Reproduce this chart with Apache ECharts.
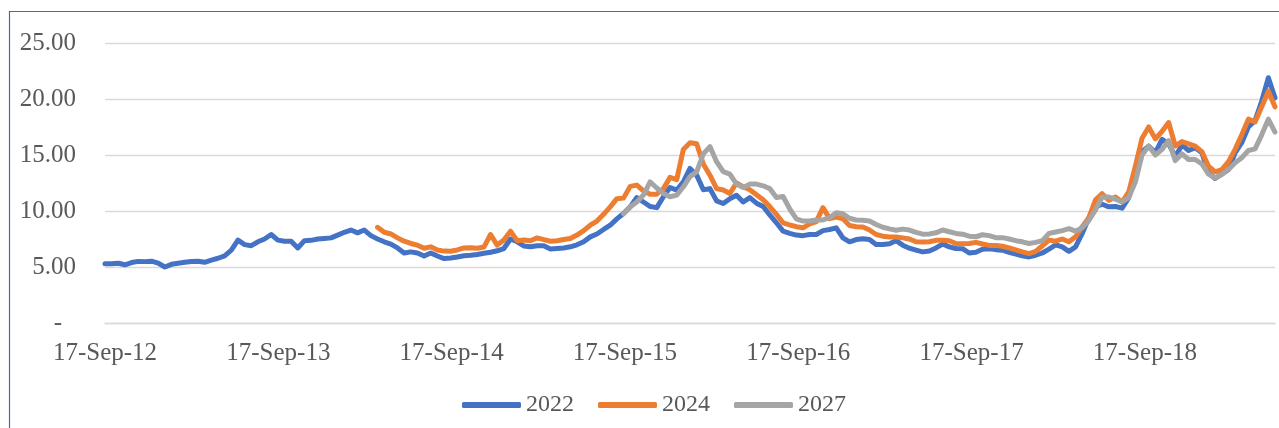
<!DOCTYPE html>
<html>
<head>
<meta charset="utf-8">
<script src="https://cdn.jsdelivr.net/npm/echarts@6/dist/echarts.min.js"></script>
<style>
  html, body { margin: 0; padding: 0; background: #ffffff; }
  #chart { width: 1279px; height: 428px; }
</style>
</head>
<body>
<div id="chart"></div>
<script>
const startDate = '2012-09-17';
const stepDays = 14;
const seriesNames = ['2022', '2024', '2027'];
const xTickLabels = ['17-Sep-12', '17-Sep-13', '17-Sep-14', '17-Sep-15', '17-Sep-16', '17-Sep-17', '17-Sep-18'];
const yTickValues = [0, 5, 10, 15, 20, 25];

// series "2022" starts at sample 0
const offset2022 = 0;
const values2022 = [
  5.30, 5.30, 5.34, 5.20, 5.40, 5.50, 5.48, 5.52, 5.35, 5.00,
  5.24, 5.34, 5.42, 5.50, 5.52, 5.42, 5.62, 5.78, 6.00, 6.50,
  7.40, 7.00, 6.90, 7.25, 7.50, 7.90, 7.40, 7.30, 7.30, 6.70,
  7.35, 7.38, 7.50, 7.55, 7.60, 7.85, 8.10, 8.30, 8.05, 8.30,
  7.80, 7.50, 7.25, 7.05, 6.70, 6.25, 6.35, 6.25, 5.98, 6.25,
  5.98, 5.75, 5.80, 5.90, 6.00, 6.05, 6.12, 6.22, 6.32, 6.45,
  6.65, 7.50, 7.25, 6.88, 6.80, 6.90, 6.90, 6.60, 6.65, 6.70,
  6.80, 6.98, 7.25, 7.69, 7.95, 8.35, 8.73, 9.30, 9.78, 10.37,
  11.20, 10.80, 10.40, 10.30, 11.27, 12.10, 11.87, 12.60, 13.80, 13.20,
  11.90, 12.00, 10.90, 10.67, 11.10, 11.40, 10.80, 11.20, 10.70, 10.40,
  9.65, 8.95, 8.20, 8.00, 7.85, 7.80, 7.90, 7.90, 8.25, 8.35,
  8.50, 7.60, 7.25, 7.45, 7.53, 7.45, 7.00, 7.00, 7.08, 7.35,
  6.95, 6.68, 6.50, 6.35, 6.42, 6.70, 7.05, 6.80, 6.65, 6.64,
  6.25, 6.32, 6.58, 6.62, 6.55, 6.50, 6.30, 6.15, 6.00, 5.90,
  6.05, 6.25, 6.60, 6.98, 6.80, 6.40, 6.80, 8.00, 9.40, 10.36,
  10.60, 10.37, 10.40, 10.25, 11.20, 13.03, 15.30, 15.80, 15.20, 16.40,
  16.00, 14.85, 15.90, 15.40, 15.65, 15.20, 13.40, 12.90, 13.30, 13.70,
  15.20, 16.10, 17.50, 18.07, 19.80, 21.90, 20.10
];

// series "2024" starts at sample 41
const offset2024 = 41;
const values2024 = [
  8.54, 8.10, 7.95, 7.60, 7.30, 7.10, 6.95, 6.67, 6.80,
  6.52, 6.42, 6.40, 6.52, 6.70, 6.72, 6.67, 6.78, 7.90, 6.96,
  7.41, 8.20, 7.35, 7.41, 7.35, 7.60, 7.45, 7.30, 7.35, 7.45,
  7.54, 7.85, 8.25, 8.73, 9.10, 9.70, 10.37, 11.10, 11.15, 12.20,
  12.31, 11.80, 11.50, 11.50, 12.00, 13.00, 12.80, 15.50, 16.10, 16.00,
  14.20, 13.20, 12.00, 11.87, 11.57, 12.50, 12.16, 11.90, 11.45, 11.00,
  10.40, 9.70, 8.95, 8.75, 8.60, 8.50, 8.85, 9.05, 10.30, 9.32,
  9.45, 9.30, 8.70, 8.60, 8.57, 8.30, 7.90, 7.75, 7.68, 7.68,
  7.60, 7.50, 7.25, 7.23, 7.25, 7.38, 7.38, 7.35, 7.10, 7.08,
  7.10, 7.20, 7.05, 6.93, 6.93, 6.85, 6.70, 6.52, 6.35, 6.20,
  6.40, 6.90, 7.40, 7.30, 7.50, 7.25, 7.70, 8.60, 9.40, 11.00,
  11.55, 10.95, 11.25, 10.80, 11.70, 14.00, 16.50, 17.50, 16.44, 17.10,
  17.90, 15.80, 16.20, 16.00, 15.80, 15.30, 14.00, 13.50, 13.70, 14.40,
  15.50, 16.80, 18.20, 17.95, 19.30, 20.70, 19.30
];

// series "2027" starts at sample 78
const offset2027 = 78;
const values2027 = [
  9.75, 10.37,
  10.80, 11.42, 12.60, 12.05, 11.57, 11.27, 11.42, 12.16, 13.06, 13.50,
  15.10, 15.75, 14.40, 13.51, 13.30, 12.40, 12.10, 12.40, 12.40, 12.25,
  12.00, 11.20, 11.30, 10.20, 9.30, 9.10, 9.10, 9.20, 9.20, 9.40,
  9.85, 9.76, 9.35, 9.20, 9.17, 9.10, 8.80, 8.55, 8.40, 8.28,
  8.38, 8.30, 8.10, 7.93, 7.95, 8.05, 8.30, 8.15, 8.00, 7.93,
  7.75, 7.70, 7.88, 7.80, 7.62, 7.62, 7.50, 7.35, 7.25, 7.10,
  7.20, 7.35, 8.00, 8.13, 8.25, 8.42, 8.20, 8.50, 9.15, 10.10,
  11.25, 11.25, 11.05, 10.80, 11.20, 12.60, 15.00, 15.80, 15.00, 15.50,
  16.29, 14.50, 15.10, 14.60, 14.60, 14.20, 13.30, 12.95, 13.25, 13.70,
  14.30, 14.75, 15.40, 15.55, 16.80, 18.20, 17.05
];

const seriesColors = ['#4472C4', '#ED7D31', '#A5A5A5'];

// ---- build ----
function buildData(values, offset) {
  return values.map(function (v, k) { return [(offset + k) * stepDays, v]; });
}
const lastIndex = values2022.length - 1;
const xMax = lastIndex * stepDays;
const yearDays = 365;

const font = 'Liberation Serif, Times New Roman, serif';
const textColor = '#595959';
const gridColor = '#D9D9D9';

const chart = echarts.init(document.getElementById('chart'), null, { renderer: 'canvas' });
chart.setOption({
  animation: false,
  backgroundColor: '#ffffff',
  graphic: [{
    type: 'rect',
    shape: { x: 9.5, y: 11.5, width: 1300, height: 500 },
    style: { fill: 'none', stroke: '#3F6BBE', lineWidth: 1.2 },
    silent: true,
    z: 0
  }],
  grid: { left: 105, right: 4, top: 43, bottom: 105, containLabel: false },
  legend: {
    left: 462,
    top: 393,
    padding: 0,
    itemWidth: 59,
    itemHeight: 6,
    itemGap: 24,
    icon: 'roundRect',
    textStyle: { fontFamily: font, fontSize: 24, color: textColor },
    data: seriesNames
  },
  xAxis: {
    type: 'value',
    min: 0,
    max: xMax,
    interval: yearDays,
    axisLine: { show: true, lineStyle: { color: gridColor, width: 1.3 } },
    axisTick: { show: false },
    splitLine: { show: false },
    axisLabel: {
      margin: 18,
      fontFamily: font,
      fontSize: 25,
      color: textColor,
      showMaxLabel: false,
      formatter: function (v) {
        if (v % yearDays !== 0) return '';
        const idx = Math.round(v / yearDays);
        return xTickLabels[idx] || '';
      }
    }
  },
  yAxis: {
    type: 'value',
    min: yTickValues[0],
    max: yTickValues[yTickValues.length - 1],
    interval: 5,
    axisLine: { show: false },
    axisTick: { show: false },
    splitLine: { show: true, lineStyle: { color: gridColor, width: 1.3 } },
    axisLabel: {
      margin: 29,
      fontFamily: font,
      fontSize: 25,
      color: textColor,
      formatter: function (v) { return v === 0 ? '{z|-}' : v.toFixed(2); },
      rich: { z: { fontFamily: font, fontSize: 25, color: textColor, padding: [0, 14, 0, 0] } }
    }
  },
  series: [
    { name: seriesNames[0], data: buildData(values2022, offset2022) },
    { name: seriesNames[1], data: buildData(values2024, offset2024) },
    { name: seriesNames[2], data: buildData(values2027, offset2027) }
  ].map(function (s, i) {
    return {
      name: s.name,
      type: 'line',
      data: s.data,
      showSymbol: false,
      symbol: 'none',
      color: seriesColors[i],
      lineStyle: { color: seriesColors[i], width: 5, cap: 'round', join: 'round' },
      itemStyle: { color: seriesColors[i] },
      emphasis: { disabled: true }
    };
  })
});
</script>
</body>
</html>
